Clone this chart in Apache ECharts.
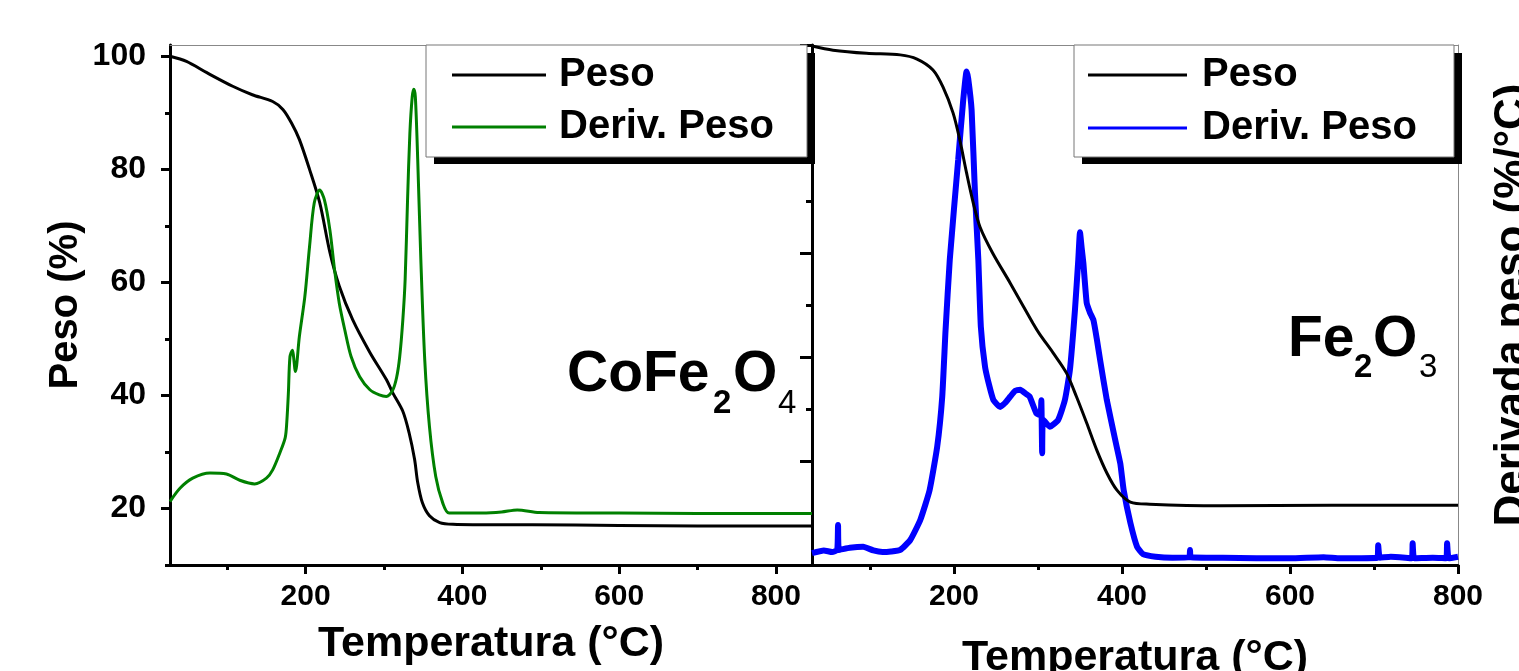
<!DOCTYPE html>
<html><head><meta charset="utf-8">
<script src="https://cdn.jsdelivr.net/npm/echarts@6/dist/echarts.min.js"></script>
<style>html,body{margin:0;padding:0;background:#fff}#c{width:1519px;height:671px}</style>
</head><body><div id="c"></div>
<script>
// ---- CoFe2O4 panel ----
const tempCoPeso = [27,48,74,107,132,158,171,182,192,205,218,231,243,260,282,303,311,324,332,339,343,349,358,371,388,450,489,600,700,846];
const pesoCo     = [100.0,99.1,97.1,94.7,93.2,92.0,90.6,88.2,85.3,80.0,74.1,65.3,59.3,53.4,47.6,42.8,40.5,37.2,33.4,28.7,24.6,21.0,18.7,17.5,17.2,17.1,17.1,17.0,16.9,16.9];
const tempCoDeriv = [27,40,56,78,99,116,135,150,158,167,174,176,178,180,183,187,192,199,205,211,218,224,231,237,243,250,258,269,282,294,303,311,316,320,324,327,330,333,336,338,340,343,347,352,358,366,375,383,425,450,470,498,600,700,846];
const derivCo     = [12.2,14.8,16.7,17.7,17.5,16.3,15.6,16.7,18.3,21.5,24.5,27.5,33.0,40.0,41.3,37.2,43.9,51.6,61.2,69.6,72.1,70.2,64.4,56.7,50.3,45.2,40.1,36.2,33.7,32.7,32.4,33.6,36.0,40.0,47.1,55.0,70.0,83.0,90.0,91.5,90.0,78.0,58.7,39.4,26.6,17.0,11.9,10.0,10.0,10.2,10.6,10.1,10.0,9.9,9.9];
// ---- Fe2O3 panel ----
const tempFePeso = [31,56,96,136,156,175,187,199,207,215,223,231,246,267,294,302,318,334,346,358,370,382,394,410,433,517,650,800];
const pesoFe     = [99.8,99.0,98.4,98.1,97.3,95.2,91.9,86.9,81.7,75.4,69.6,65.0,60.0,54.2,46.5,44.4,40.8,36.9,32.3,27.3,22.1,17.7,14.4,12.1,11.7,11.4,11.5,11.5];
const tempFeDeriv = [31,45,55,61,62,63,76,92,104,115,125,136,148,160,171,180,186,190,195,205,211,215,217,221,225,229,232,237,242,247,255,261,267,273,279,285,290,298,303,304,305,306,314,324,332,338,344,348,350,352,354,358,362,366,370,374,382,392,398,402,410,418,425,440,460,480,481,482,520,560,600,640,660,704,705,707,720,745,746,748,770,786,787,789,800];
const derivFe     = [2.3,2.8,2.5,2.9,7.7,2.9,3.3,3.5,2.8,2.5,2.6,2.9,4.8,8.7,14.4,22.7,32.3,45.2,58.7,77.9,89.4,94.9,93.5,87.5,71.5,58.7,45.8,38.1,34.5,31.7,30.4,31.2,32.4,33.5,33.7,33.0,32.4,29.2,28.8,31.7,21.5,28.0,26.6,27.9,31.7,37.5,49.0,58.7,64.0,61.0,58.1,50.4,48.5,47.1,43.5,39.4,31.7,24.0,19.5,14.4,8.1,3.5,2.1,1.6,1.4,1.5,2.9,1.5,1.4,1.3,1.3,1.5,1.3,1.4,3.8,1.4,1.6,1.3,4.2,1.3,1.4,1.3,4.2,1.3,1.6];
// ---- ticks ----
const xTicks = [200,400,600,800];
const xMinor = [100,300,500,700];
const yTicksCo = [20,40,60,80,100];
const yMinorCo = [10,30,50,70,90];
const yTicksFe = [0,20,40,60,80,100];
const yMinorFe = [10,30,50,70,90];

const zip = (a,b) => a.map((v,i)=>[v,b[i]]);
const FF = 'Liberation Sans, Arial, sans-serif';
const chart = echarts.init(document.getElementById('c'));

function mainX(grid,min,max,gap){
  return {gridIndex:grid,type:'value',min:min,max:max,position:'bottom',
    axisLine:{show:true,onZero:false,lineStyle:{color:'#000',width:3}},
    axisTick:{show:true,inside:false,length:9,lineStyle:{color:'#000',width:3},customValues:xTicks},
    axisLabel:{show:true,customValues:xTicks,margin:17,color:'#000',fontSize:30,fontWeight:'bold',fontFamily:FF},
    splitLine:{show:false},
    name:'Temperatura (°C)',nameLocation:'middle',nameGap:gap,
    nameTextStyle:{color:'#000',fontSize:43,fontWeight:'bold',fontFamily:FF}};
}
function minorX(grid,min,max){
  return {gridIndex:grid,type:'value',min:min,max:max,position:'bottom',
    axisLine:{show:false},axisTick:{show:true,length:5,lineStyle:{color:'#000',width:3},customValues:xMinor},
    axisLabel:{show:false},splitLine:{show:false}};
}
function topX(grid,min,max){
  return {gridIndex:grid,type:'value',min:min,max:max,position:'top',
    axisLine:{show:true,onZero:false,lineStyle:{color:'#888',width:1}},axisTick:{show:false},
    axisLabel:{show:false},splitLine:{show:false}};
}

const option = {
  backgroundColor:'#fff',
  animation:false,
  grid:[
    {left:170,top:45,width:642,height:520,containLabel:false,outerBoundsMode:'none'},
    {left:812,top:45,width:646,height:520,containLabel:false,outerBoundsMode:'none'}
  ],
  xAxis:[
    mainX(0,27,846,58), minorX(0,27,846), topX(0,27,846),
    mainX(1,31,800,72), minorX(1,31,800), topX(1,31,800)
  ],
  yAxis:[
    {gridIndex:0,type:'value',min:10,max:102,position:'left',
      axisLine:{show:true,onZero:false,lineStyle:{color:'#000',width:3}},
      axisTick:{show:true,length:9,lineStyle:{color:'#000',width:3},customValues:yTicksCo},
      axisLabel:{show:true,customValues:yTicksCo,margin:24,color:'#000',fontSize:32,fontWeight:'bold',fontFamily:FF},
      splitLine:{show:false},
      name:'Peso (%)',nameLocation:'middle',nameRotate:90,nameGap:84,
      nameTextStyle:{color:'#000',fontSize:40,fontWeight:'bold',fontFamily:FF}},
    {gridIndex:0,type:'value',min:10,max:102,position:'left',
      axisLine:{show:false},axisTick:{show:true,length:5,lineStyle:{color:'#000',width:3},customValues:yMinorCo},
      axisLabel:{show:false},splitLine:{show:false}},
    {gridIndex:0,type:'value',min:0,max:100,position:'right',show:false},
    {gridIndex:1,type:'value',min:0,max:100,position:'left',
      axisLine:{show:true,onZero:false,lineStyle:{color:'#000',width:3}},
      axisTick:{show:true,length:12,lineStyle:{color:'#000',width:3},customValues:yTicksFe},
      axisLabel:{show:false},splitLine:{show:false}},
    {gridIndex:1,type:'value',min:0,max:100,position:'left',
      axisLine:{show:false},axisTick:{show:true,length:6,lineStyle:{color:'#000',width:3},customValues:yMinorFe},
      axisLabel:{show:false},splitLine:{show:false}},
    {gridIndex:1,type:'value',min:0,max:100,position:'right',
      axisLine:{show:true,onZero:false,lineStyle:{color:'#888',width:1}},axisTick:{show:false},
      axisLabel:{show:false},splitLine:{show:false},
      name:'Derivada peso (%/°C)',nameLocation:'middle',nameRotate:90,nameGap:33,
      nameTextStyle:{color:'#000',fontSize:44,fontWeight:'bold',fontFamily:FF}}
  ],
  series:[
    {name:'Peso',type:'line',xAxisIndex:0,yAxisIndex:0,data:zip(tempCoPeso,pesoCo),symbol:'none',smooth:0.3,
      lineStyle:{color:'#000',width:3},z:3},
    {name:'Deriv. Peso',type:'line',xAxisIndex:0,yAxisIndex:2,data:zip(tempCoDeriv,derivCo),symbol:'none',smooth:0.3,
      lineStyle:{color:'#008000',width:3},z:3},
    {name:'Deriv. Peso (Fe)',type:'line',xAxisIndex:3,yAxisIndex:5,data:zip(tempFeDeriv,derivFe),symbol:'none',smooth:0.15,
      lineStyle:{color:'#0000ff',width:6},z:2},
    {name:'Peso (Fe)',type:'line',xAxisIndex:3,yAxisIndex:3,data:zip(tempFePeso,pesoFe),symbol:'none',smooth:0.3,
      lineStyle:{color:'#000',width:3},z:3}
  ],
  graphic:[
    // left legend
    {type:'rect',shape:{x:434,y:53,width:381,height:111},style:{fill:'#000'},z:10},
    {type:'rect',shape:{x:426,y:45,width:381,height:112},style:{fill:'#fff',stroke:'#777',lineWidth:1},z:11},
    {type:'line',shape:{x1:452,y1:75,x2:546,y2:75},style:{stroke:'#000',lineWidth:3},z:12},
    {type:'line',shape:{x1:452,y1:127,x2:546,y2:127},style:{stroke:'#008000',lineWidth:3},z:12},
    {type:'text',x:559,y:75,style:{text:'Peso',fill:'#000',font:'bold 40px '+FF,verticalAlign:'middle'},z:12},
    {type:'text',x:559,y:127,style:{text:'Deriv. Peso',fill:'#000',font:'bold 40px '+FF,verticalAlign:'middle'},z:12},
    // right legend
    {type:'rect',shape:{x:1082,y:53,width:380,height:111},style:{fill:'#000'},z:10},
    {type:'rect',shape:{x:1074,y:45,width:380,height:112},style:{fill:'#fff',stroke:'#777',lineWidth:1},z:11},
    {type:'line',shape:{x1:1088,y1:75,x2:1187,y2:75},style:{stroke:'#000',lineWidth:3},z:12},
    {type:'line',shape:{x1:1088,y1:128,x2:1187,y2:128},style:{stroke:'#0000ff',lineWidth:3},z:12},
    {type:'text',x:1202,y:75,style:{text:'Peso',fill:'#000',font:'bold 40px '+FF,verticalAlign:'middle'},z:12},
    {type:'text',x:1202,y:128,style:{text:'Deriv. Peso',fill:'#000',font:'bold 40px '+FF,verticalAlign:'middle'},z:12},
    // CoFe2O4
    {type:'text',x:567,y:375,style:{text:'CoFe',fill:'#000',font:'bold 57px '+FF,verticalAlign:'middle'},z:12},
    {type:'text',x:713,y:404,style:{text:'2',fill:'#000',font:'bold 33px '+FF,verticalAlign:'middle'},z:12},
    {type:'text',x:733,y:375,style:{text:'O',fill:'#000',font:'bold 57px '+FF,verticalAlign:'middle'},z:12},
    {type:'text',x:778,y:404,style:{text:'4',fill:'#000',font:'normal 33px '+FF,verticalAlign:'middle'},z:12},
    // Fe2O3
    {type:'text',x:1288,y:340,style:{text:'Fe',fill:'#000',font:'bold 57px '+FF,verticalAlign:'middle'},z:12},
    {type:'text',x:1354,y:368,style:{text:'2',fill:'#000',font:'bold 33px '+FF,verticalAlign:'middle'},z:12},
    {type:'text',x:1373,y:340,style:{text:'O',fill:'#000',font:'bold 57px '+FF,verticalAlign:'middle'},z:12},
    {type:'text',x:1419,y:368,style:{text:'3',fill:'#000',font:'normal 33px '+FF,verticalAlign:'middle'},z:12}
  ]
};
chart.setOption(option);
</script>
</body></html>
